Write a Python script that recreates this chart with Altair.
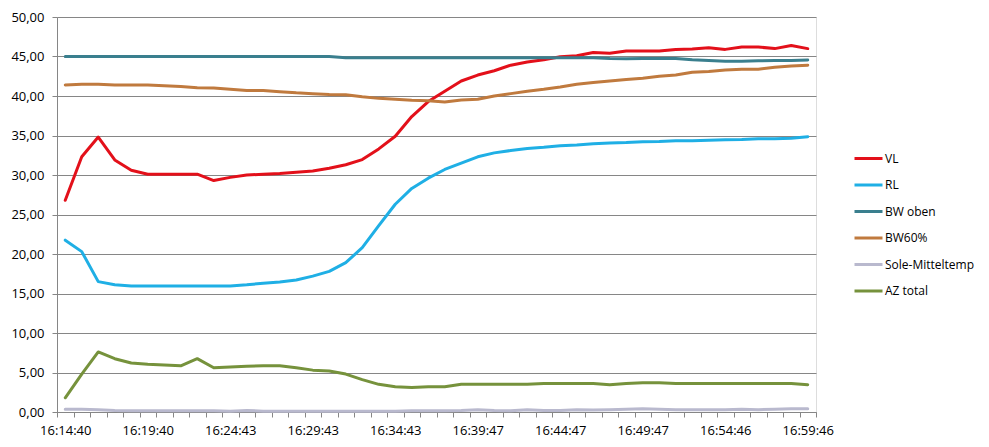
import json
import altair as alt
import pandas as pd

times = [
    "16:14:40", "16:15:40", "16:16:40", "16:17:40", "16:18:40",
    "16:19:40", "16:20:41", "16:21:41", "16:22:42", "16:23:42",
    "16:24:43", "16:25:43", "16:26:43", "16:27:43", "16:28:43",
    "16:29:43", "16:30:43", "16:31:43", "16:32:43", "16:33:43",
    "16:34:43", "16:35:44", "16:36:45", "16:37:46", "16:38:46",
    "16:39:47", "16:40:47", "16:41:47", "16:42:47", "16:43:47",
    "16:44:47", "16:45:47", "16:46:47", "16:47:47", "16:48:47",
    "16:49:47", "16:50:47", "16:51:47", "16:52:46", "16:53:46",
    "16:54:46", "16:55:46", "16:56:46", "16:57:46", "16:58:46",
    "16:59:46",
]
shown_labels = ["16:14:40", "16:19:40", "16:24:43", "16:29:43", "16:34:43",
                "16:39:47", "16:44:47", "16:49:47", "16:54:46", "16:59:46"]

vl = [26.8, 32.3, 34.8, 31.9, 30.6, 30.1, 30.1, 30.1, 30.1, 29.3,
      29.7, 30.0, 30.1, 30.2, 30.35, 30.5, 30.85, 31.3, 31.95, 33.3,
      34.9, 37.4, 39.3, 40.6, 41.9, 42.65, 43.2, 43.9, 44.3, 44.6,
      44.96, 45.1, 45.5, 45.4, 45.7, 45.7, 45.7, 45.9, 45.95, 46.1,
      45.9, 46.2, 46.2, 46.0, 46.4, 46.0]
rl = [21.75, 20.3, 16.5, 16.1, 15.95, 15.95, 15.95, 15.95, 15.95, 15.95,
      15.95, 16.1, 16.3, 16.45, 16.7, 17.2, 17.8, 18.9, 20.8, 23.6,
      26.3, 28.3, 29.6, 30.7, 31.5, 32.3, 32.8, 33.1, 33.35, 33.5,
      33.7, 33.8, 33.95, 34.05, 34.1, 34.2, 34.25, 34.35, 34.35, 34.4,
      34.45, 34.5, 34.6, 34.6, 34.65, 34.85]
bw_oben = [45.0, 45.0, 45.0, 45.0, 45.0, 45.0, 45.0, 45.0, 45.0, 45.0,
           45.0, 45.0, 45.0, 45.0, 45.0, 45.0, 45.0, 44.85, 44.85, 44.85,
           44.85, 44.85, 44.85, 44.85, 44.85, 44.85, 44.85, 44.85, 44.85, 44.85,
           44.85, 44.85, 44.85, 44.75, 44.7, 44.75, 44.75, 44.75, 44.6, 44.5,
           44.4, 44.4, 44.45, 44.5, 44.5, 44.55]
bw60 = [41.4, 41.5, 41.5, 41.4, 41.4, 41.4, 41.3, 41.2, 41.05, 41.0,
        40.85, 40.7, 40.7, 40.55, 40.4, 40.3, 40.2, 40.15, 39.9, 39.7,
        39.6, 39.45, 39.4, 39.25, 39.5, 39.6, 40.0, 40.3, 40.6, 40.85,
        41.15, 41.5, 41.7, 41.9, 42.1, 42.25, 42.5, 42.65, 43.0, 43.1,
        43.3, 43.4, 43.4, 43.65, 43.8, 43.9]
sole = [0.35, 0.35, 0.3, 0.2, 0.15, 0.15, 0.15, 0.15, 0.15, 0.15,
        0.1, 0.2, 0.1, 0.1, 0.1, 0.1, 0.1, 0.1, 0.1, 0.1,
        0.1, 0.15, 0.15, 0.15, 0.2, 0.3, 0.2, 0.15, 0.3, 0.2,
        0.2, 0.3, 0.25, 0.3, 0.35, 0.4, 0.35, 0.3, 0.3, 0.3,
        0.3, 0.35, 0.3, 0.35, 0.4, 0.4]
az = [1.8, 4.8, 7.6, 6.75, 6.2, 6.05, 5.95, 5.85, 6.75, 5.6,
      5.7, 5.8, 5.85, 5.85, 5.6, 5.3, 5.2, 4.8, 4.1, 3.5,
      3.2, 3.1, 3.2, 3.2, 3.5, 3.5, 3.5, 3.5, 3.5, 3.6,
      3.6, 3.6, 3.6, 3.45, 3.6, 3.7, 3.7, 3.6, 3.6, 3.6,
      3.6, 3.6, 3.6, 3.6, 3.6, 3.45]

series_names = ["VL", "RL", "BW oben", "BW60%", "Sole-Mitteltemp", "AZ total"]
series_colors = ["#E3101A", "#1FAFE5", "#3A7F8E", "#C07A3E", "#B9B9CE", "#76923C"]
series_values = [vl, rl, bw_oben, bw60, sole, az]

rows = []
for k, (name, vals) in enumerate(zip(series_names, series_values)):
    for t, v in zip(times, vals):
        rows.append({"Zeit": t, "Serie": name, "Wert": v, "ord": k})
df = pd.DataFrame(rows)

font = "Open Sans"
label_expr = "indexof(" + json.dumps(shown_labels) + ", datum.value) >= 0 ? datum.value : ''"

chart = alt.Chart(df).mark_line(strokeWidth=3, strokeJoin="round", strokeCap="round").encode(
    x=alt.X("Zeit:O", sort=times,
            scale=alt.Scale(type="band", paddingInner=0, paddingOuter=0),
            axis=alt.Axis(title=None, labelAngle=0, labelExpr=label_expr,
                          tickBand="extent", tickSize=5, tickColor="#868686",
                          domainColor="#868686", labelPadding=7,
                          labelFont=font, labelFontSize=13, labelColor="#000000",
                          grid=False, labelOverlap=False)),
    y=alt.Y("Wert:Q", scale=alt.Scale(domain=[0, 50], nice=False, zero=True),
            axis=alt.Axis(title=None, values=list(range(0, 51, 5)),
                          labelExpr="replace(format(datum.value, '.2f'), '.', ',')",
                          tickSize=5, tickColor="#868686", domainColor="#868686",
                          gridColor="#868686", gridWidth=1, labelPadding=8,
                          labelFont=font, labelFontSize=13, labelColor="#000000")),
    color=alt.Color("Serie:N", sort=series_names,
                    scale=alt.Scale(domain=series_names, range=series_colors),
                    legend=alt.Legend(title=None, orient="none", legendX=796, legendY=126,
                                      symbolType="stroke", symbolSize=784,
                                      symbolStrokeWidth=3, labelOffset=1,
                                      labelFont=font, labelFontSize=12,
                                      labelColor="#000000", rowPadding=4.5)),
    order=alt.Order("ord:Q"),
).properties(
    width=759,
    height=395,
    autosize=alt.AutoSizeParams(type="none"),
    padding={"left": 49, "top": 9, "right": 165, "bottom": 25},
).configure_view(stroke=None).configure(background="#FFFFFF")

chart.save("out.html", embed_options={"renderer": "svg", "actions": False})
